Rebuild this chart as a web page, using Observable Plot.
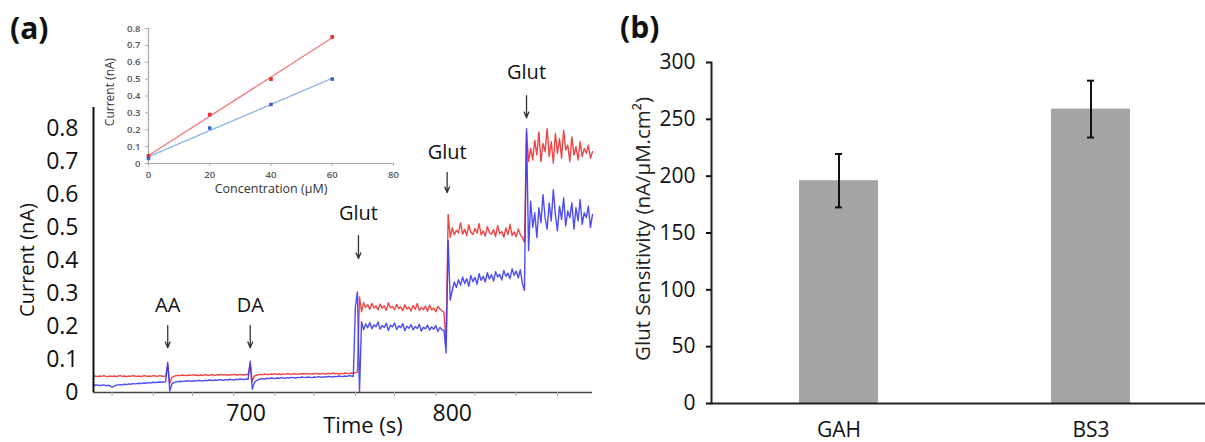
<!DOCTYPE html>
<html>
<head>
<meta charset="utf-8">
<script src="https://cdn.jsdelivr.net/npm/d3@7"></script>
<script src="https://cdn.jsdelivr.net/npm/@observablehq/plot@0.6"></script>
<style>
  html, body { margin: 0; padding: 0; background: #fff; }
  #root { position: relative; width: 1205px; height: 442px; overflow: hidden; background: #fff; font-family: "Open Sans", sans-serif; }
  .abs { position: absolute; }
  .panel-label { position: absolute; font-weight: 700; font-size: 30px; line-height: 30px; color: #111; }
</style>
</head>
<body>
<div id="root">
  <div id="mainA" class="abs" style="left:0;top:0"></div>
  <div id="inset" class="abs" style="left:95px;top:15px"></div>
  <div id="panelB" class="abs" style="left:600px;top:0"></div>
  <div class="panel-label" style="left:10px;top:13px">(a)</div>
  <div class="panel-label" style="left:620px;top:12px">(b)</div>
</div>
<script>
// ---------------- Panel (a): amperometric traces (1 sample per second) ----------------
const timeStart = 626; // s, time of first sample
const redCurrent = [
  0.049,0.050,0.048,0.050,0.049,0.051,0.049,0.048,0.050,0.049,
  0.050,0.048,0.050,0.051,0.049,0.050,0.048,0.050,0.049,0.051,
  0.050,0.049,0.050,0.048,0.050,0.051,0.049,0.050,0.049,0.051,
  0.050,0.049,0.051,0.050,0.049,0.050,0.082,0.028,0.046,0.049,
  0.051,0.052,0.051,0.053,0.052,0.051,0.053,0.052,0.054,0.052,
  0.053,0.051,0.053,0.052,0.054,0.053,0.052,0.054,0.053,0.052,
  0.054,0.053,0.055,0.053,0.054,0.052,0.054,0.053,0.055,0.054,
  0.053,0.055,0.054,0.053,0.055,0.054,0.086,0.034,0.050,0.052,
  0.054,0.055,0.054,0.056,0.055,0.054,0.056,0.055,0.057,0.055,
  0.056,0.054,0.056,0.055,0.057,0.056,0.055,0.057,0.056,0.055,
  0.057,0.056,0.058,0.056,0.057,0.055,0.057,0.056,0.058,0.057,
  0.056,0.058,0.057,0.056,0.058,0.057,0.059,0.057,0.058,0.056,
  0.058,0.057,0.059,0.058,0.057,0.059,0.058,0.060,0.062,0.290,
  0.245,0.272,0.258,0.266,0.252,0.270,0.256,0.262,0.250,0.268,
  0.255,0.263,0.249,0.272,0.257,0.261,0.251,0.267,0.254,0.260,
  0.248,0.266,0.253,0.259,0.247,0.264,0.252,0.270,0.249,0.258,
  0.251,0.262,0.246,0.265,0.250,0.256,0.245,0.261,0.253,0.248,
  0.243,0.150,0.540,0.470,
  0.500,0.478,0.492,0.484,0.515,0.480,0.495,0.476,0.508,0.486,
  0.479,0.497,0.483,0.512,0.478,0.490,0.474,0.503,0.485,0.480,
  0.494,0.473,0.506,0.481,0.488,0.471,0.499,0.479,0.510,0.476,
  0.487,0.472,0.496,0.478,0.470,
  0.455,0.790,0.700,
  0.740,0.705,0.765,0.720,0.790,0.700,0.755,0.730,0.800,0.715,
  0.760,0.695,0.785,0.725,0.770,0.710,0.795,0.735,0.750,0.700,
  0.775,0.720,0.745,0.705,0.760,0.715,0.740,0.725,0.750,0.710,
  0.730
];
const blueCurrent = [
  0.024,0.022,0.023,0.021,0.022,0.023,0.021,0.022,0.020,0.016,
  0.019,0.022,0.023,0.024,0.023,0.025,0.024,0.026,0.025,0.027,
  0.026,0.027,0.028,0.027,0.029,0.028,0.029,0.030,0.029,0.031,
  0.030,0.031,0.032,0.031,0.032,0.033,0.092,0.004,0.026,0.030,
  0.032,0.033,0.034,0.033,0.035,0.034,0.036,0.035,0.034,0.036,
  0.035,0.037,0.036,0.035,0.037,0.036,0.038,0.037,0.036,0.038,
  0.037,0.039,0.038,0.037,0.039,0.038,0.040,0.039,0.038,0.040,
  0.039,0.041,0.040,0.039,0.041,0.040,0.095,0.010,0.030,0.036,
  0.039,0.041,0.042,0.041,0.043,0.042,0.044,0.043,0.042,0.044,
  0.043,0.045,0.044,0.043,0.045,0.044,0.046,0.045,0.044,0.046,
  0.045,0.047,0.046,0.045,0.047,0.046,0.045,0.047,0.046,0.048,
  0.047,0.046,0.048,0.047,0.049,0.048,0.047,0.049,0.048,0.050,
  0.049,0.048,0.050,0.049,0.051,0.050,0.049,0.260,0.305,0.002,
  0.215,0.190,0.208,0.196,0.212,0.193,0.205,0.199,0.214,0.192,
  0.203,0.197,0.210,0.188,0.204,0.199,0.211,0.191,0.202,0.196,
  0.209,0.187,0.201,0.195,0.206,0.190,0.200,0.194,0.207,0.186,
  0.198,0.193,0.204,0.189,0.199,0.192,0.203,0.185,0.197,0.190,
  0.188,0.120,0.460,0.280,
  0.310,0.335,0.318,0.342,0.325,0.350,0.330,0.345,0.322,0.355,
  0.336,0.349,0.328,0.360,0.340,0.352,0.335,0.363,0.344,0.357,
  0.338,0.366,0.350,0.358,0.341,0.370,0.352,0.362,0.345,0.375,
  0.355,0.368,0.348,0.372,0.330,
  0.310,0.800,0.430,
  0.580,0.500,0.545,0.470,0.560,0.515,0.600,0.530,0.495,0.575,
  0.520,0.615,0.540,0.490,0.565,0.525,0.590,0.505,0.550,0.530,
  0.575,0.495,0.560,0.520,0.585,0.510,0.545,0.530,0.565,0.500,
  0.540
];
const xDomainA = [626, 868];
const yDomainA = [0, 0.864];
const xTickLabelsA = [700, 800];
const xMinorTicksA = [635, 655, 674, 694, 714, 733, 753, 772, 792, 811, 831, 851];
const yTicksA = [0, 0.1, 0.2, 0.3, 0.4, 0.5, 0.6, 0.7, 0.8];
const annotationLabels = ["AA", "DA", "Glut", "Glut", "Glut"];
const annotationTimes = [662, 702, 754.5, 797.5, 836];
const annotationTextLevel = [0.264, 0.264, 0.542, 0.727, 0.970];
const annotationArrowTop = [0.203, 0.203, 0.476, 0.667, 0.900];
const annotationArrowBottom = [0.136, 0.136, 0.406, 0.606, 0.833];

// ---------------- Inset: calibration ----------------
const insetConcentration = [0, 20, 40, 60];
const insetRed = [0.045, 0.29, 0.50, 0.75];
const insetBlue = [0.03, 0.21, 0.35, 0.50];
const insetXTicks = [0, 20, 40, 60, 80];
const insetYTicks = [0, 0.1, 0.2, 0.3, 0.4, 0.5, 0.6, 0.7, 0.8];

// ---------------- Panel (b): sensitivity ----------------
const categories = ["GAH", "BS3"];
const sensitivity = [196, 259];
const sensitivityErr = [23.5, 25];
const yTicksB = [0, 50, 100, 150, 200, 250, 300];

const RED = "#ee4646";
const BLUE = "#3a3af2";
const FONT = "'Open Sans', sans-serif";

const trace = redCurrent.map((r, i) => ({t: timeStart + i, red: r, blue: blueCurrent[i]}));
const annotations = annotationLabels.map((l, i) => ({
  label: l, t: annotationTimes[i], textY: annotationTextLevel[i],
  a1: annotationArrowTop[i], a2: annotationArrowBottom[i]
}));

const mainA = Plot.plot({
  width: 600, height: 442,
  marginLeft: 93, marginRight: 8, marginTop: 107, marginBottom: 50,
  style: {fontFamily: FONT, fontSize: "23px", background: "transparent", overflow: "visible", color: "#111"},
  x: {domain: xDomainA, label: null},
  y: {domain: yDomainA, label: null},
  marks: [
    Plot.line(trace, {x: "t", y: "red", stroke: RED, strokeWidth: 1.4}),
    Plot.line(trace, {x: "t", y: "blue", stroke: BLUE, strokeWidth: 1.4, strokeOpacity: 0.9}),
    Plot.ruleY([0], {stroke: "#444", strokeWidth: 1.6}),
    Plot.ruleX([xDomainA[0]], {stroke: "#111", strokeWidth: 2}),
    Plot.axisX({ticks: xMinorTicksA, tickSize: 4, tickFormat: () => "", stroke: "#aaa", label: null}),
    Plot.axisX({ticks: xTickLabelsA, tickSize: 0, tickPadding: 12, label: null}),
    Plot.axisY({ticks: yTicksA, tickSize: 0, tickPadding: 15, tickFormat: d => String(d), label: null}),
    Plot.text(["Current (nA)"], {frameAnchor: "left", dx: -66, dy: 10, rotate: -90, textAnchor: "middle", text: d => d, fontSize: 20}),
    Plot.text(["Time (s)"], {frameAnchor: "bottom", dx: 20, dy: 40, textAnchor: "middle", text: d => d, fontSize: 22}),
    Plot.text(annotations, {x: "t", y: "textY", text: "label", fontSize: 20, fill: "#111"}),
    Plot.arrow(annotations, {x1: "t", x2: "t", y1: "a1", y2: "a2", stroke: "#333", strokeWidth: 1.3, headLength: 7, headAngle: 45})
  ]
});
document.getElementById("mainA").appendChild(mainA);

const insetRows = insetConcentration.map((c, i) => ({c, red: insetRed[i], blue: insetBlue[i]}));
const inset = Plot.plot({
  width: 310, height: 185,
  marginLeft: 53, marginRight: 12, marginTop: 13, marginBottom: 37,
  style: {fontFamily: FONT, fontSize: "9.5px", fontWeight: 600, background: "transparent", overflow: "visible", color: "#444"},
  x: {domain: [0, 80], label: null},
  y: {domain: [0, 0.8], label: null},
  marks: [
    Plot.ruleY([0], {stroke: "#aaa", strokeWidth: 1.2}),
    Plot.ruleX([0], {stroke: "#aaa", strokeWidth: 1.2}),
    Plot.axisX({ticks: insetXTicks, tickSize: 3, tickPadding: 5, stroke: "#aaa", fill: "#555", label: null}),
    Plot.axisY({ticks: insetYTicks, tickSize: 3, tickPadding: 5, tickFormat: d => String(d), stroke: "#aaa", fill: "#555", label: null}),
    Plot.linearRegressionY(insetRows, {x: "c", y: "red", stroke: "#f07c7c", strokeWidth: 1.3, ci: 0}),
    Plot.linearRegressionY(insetRows, {x: "c", y: "blue", stroke: "#8fb2e0", strokeWidth: 1.5, strokeDasharray: "1.5,1.5", ci: 0}),
    Plot.dot(insetRows, {x: "c", y: "red", symbol: "square", r: 2.1, fill: "#e63232", stroke: "none"}),
    Plot.dot(insetRows, {x: "c", y: "blue", symbol: "square", r: 2, fill: "#3a67c6", stroke: "none"}),
    Plot.text(["Current (nA)"], {frameAnchor: "left", dx: -38, dy: -4, rotate: -90, textAnchor: "middle", text: d => d, fontSize: 12, fontWeight: 400, fill: "#333"}),
    Plot.text(["Concentration (\u00b5M)"], {frameAnchor: "bottom", dy: 29.5, textAnchor: "middle", text: d => d, fontSize: 12.5, fontWeight: 400, fill: "#333"})
  ]
});
document.getElementById("inset").appendChild(inset);

const barRows = categories.map((c, i) => ({
  name: c, value: sensitivity[i],
  lo: sensitivity[i] - sensitivityErr[i], hi: sensitivity[i] + sensitivityErr[i]
}));
const panelB = Plot.plot({
  width: 605, height: 442,
  marginLeft: 111, marginRight: 0, marginTop: 62, marginBottom: 39,
  style: {fontFamily: FONT, fontSize: "21px", background: "transparent", overflow: "visible", color: "#111"},
  x: {domain: categories, range: [113, 617], paddingInner: 0.686, paddingOuter: 0.343, label: null},
  y: {domain: [0, 300], label: null},
  marks: [
    Plot.barY(barRows, {x: "name", y: "value", fill: "#a5a5a5"}),
    Plot.ruleX(barRows, {x: "name", y1: "lo", y2: "hi", stroke: "#111", strokeWidth: 2}),
    Plot.tickY(barRows, {x: "name", y: "lo", insetLeft: 36, insetRight: 36, stroke: "#111", strokeWidth: 2}),
    Plot.tickY(barRows, {x: "name", y: "hi", insetLeft: 36, insetRight: 36, stroke: "#111", strokeWidth: 2}),
    Plot.ruleY([0], {stroke: "#222", strokeWidth: 2}),
    Plot.frame({anchor: "left", stroke: "#222", strokeWidth: 2}),
    Plot.axisY({ticks: yTicksB, tickSize: 5, tickPadding: 11, strokeWidth: 2, label: null}),
    Plot.axisX({tickSize: 0, tickPadding: 19, label: null}),
    Plot.text(["Glut Sensitivity (nA/\u00b5M.cm\u00b2)"], {frameAnchor: "left", dx: -68, dy: -4, rotate: -90, textAnchor: "middle", text: d => d, fontSize: 20.5, fill: "#222"})
  ]
});
document.getElementById("panelB").appendChild(panelB);
</script>
</body>
</html>
